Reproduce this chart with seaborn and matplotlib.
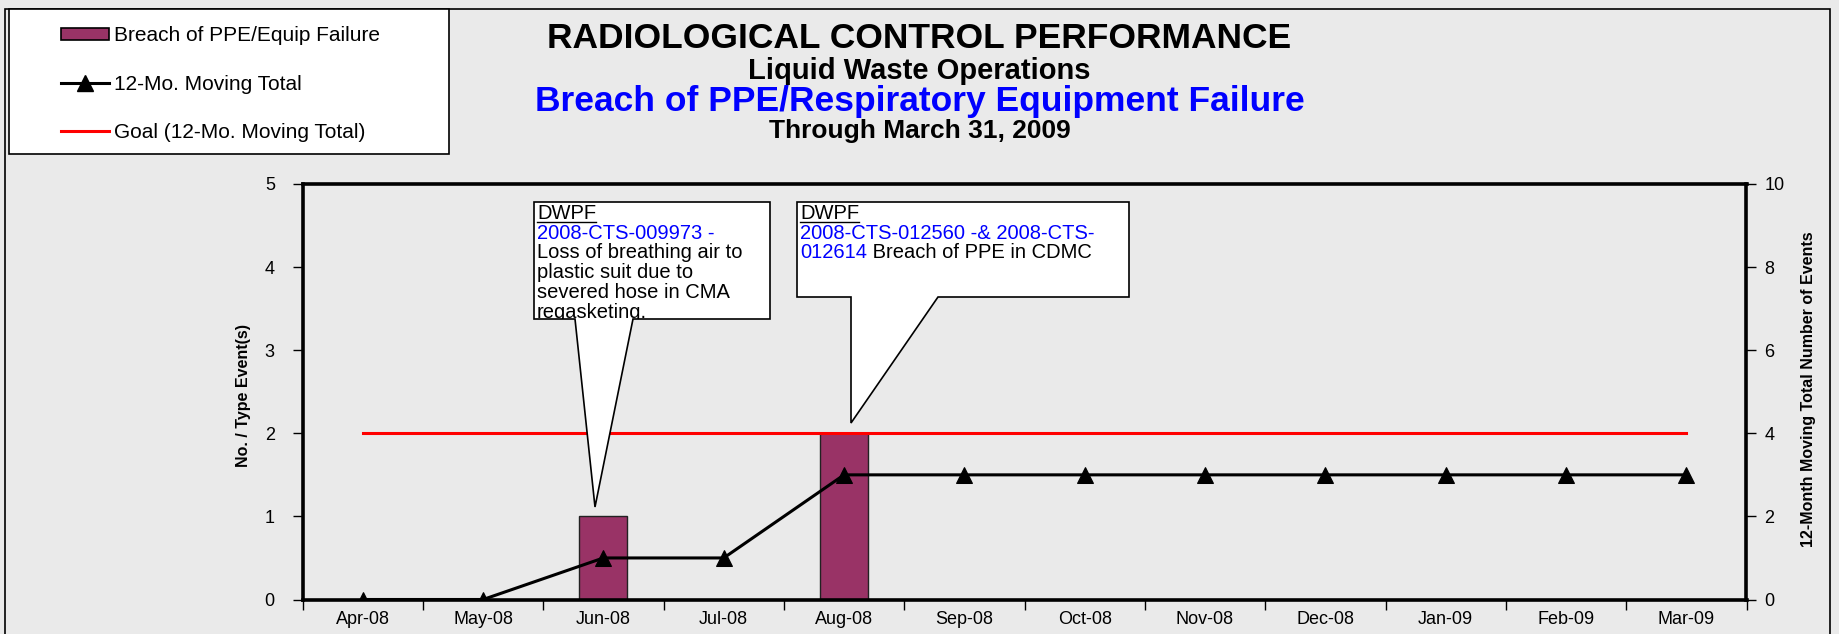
import numpy as np
import seaborn as sns
import matplotlib.pyplot as plt
from matplotlib.patches import Polygon, Rectangle, Patch
from matplotlib.lines import Line2D
from matplotlib.transforms import Bbox, TransformedBbox

# chart data
months = ['Apr-08', 'May-08', 'Jun-08', 'Jul-08', 'Aug-08', 'Sep-08',
          'Oct-08', 'Nov-08', 'Dec-08', 'Jan-09', 'Feb-09', 'Mar-09']
events = [0, 0, 1, 0, 2, 0, 0, 0, 0, 0, 0, 0]
moving_total = [0, 0, 1, 1, 3, 3, 3, 3, 3, 3, 3, 3]
goal = [4, 4, 4, 4, 4, 4, 4, 4, 4, 4, 4, 4]
legend_labels = ['Breach of PPE/Equip Failure', '12-Mo. Moving Total',
                 'Goal (12-Mo. Moving Total)']

bg = '#eaeaea'
bar_color = '#993366'

plt.rcParams['font.family'] = ['Liberation Sans', 'DejaVu Sans']

W, H = 1839, 634
fig = plt.figure(figsize=(W / 100, H / 100), dpi=100, facecolor=bg)


# helpers to place things in pixel coords (from the top left)
def fx(x):
    return x / W


def fy(y):
    return 1 - y / H


ax = fig.add_axes([fx(302.6), fy(599.5), (1746.5 - 302.6) / W, (599.5 - 184) / H])
ax.set_facecolor(bg)

sns.barplot(x=months, y=events, ax=ax, color=bar_color, saturation=1,
            width=0.4, edgecolor='#222222', linewidth=1)
ax.set_xlim(-0.5, 11.5)
ax.set_ylim(0, 5)
ax.set_yticks(range(6))
ax.set_xticks(range(len(months)))
ax.set_xticklabels(months)
ax.set_xticks(np.arange(-0.5, len(months), 1), minor=True)
ax.set_xlabel('')
ax.set_ylabel('No. / Type Event(s)', fontsize=11.5, fontweight='bold')
ax.yaxis.set_label_coords(-0.0355, 0.492)
ax.tick_params(axis='x', which='major', length=0, pad=8, labelsize=13)
ax.tick_params(axis='x', which='minor', length=7, width=1, direction='out')
ax.tick_params(axis='y', length=7, width=1, direction='out', pad=13, labelsize=13)
for side in ['left', 'bottom', 'top']:
    ax.spines[side].set_linewidth(2.6)
    ax.spines[side].set_color('black')
ax.spines['right'].set_visible(False)

# moving total on the right axis
ax2 = ax.twinx()
x_pos = np.arange(len(months))
sns.lineplot(x=x_pos, y=goal, ax=ax2, color='red', lw=2.2)
sns.lineplot(x=x_pos, y=moving_total, ax=ax2, color='black', lw=2.2,
             marker='^', markersize=11, markeredgecolor='black')
ax2.set_ylim(0, 10)
ax2.set_yticks(range(0, 11, 2))
ax2.set_xlim(-0.5, 11.5)
ax2.set_ylabel('12-Month Moving Total Number of Events', fontsize=11.5, fontweight='bold')
ax2.yaxis.set_label_coords(1.0375, 0.507)
ax2.tick_params(axis='y', length=7, width=1, direction='out', pad=6, labelsize=13)
for side in ['left', 'bottom', 'top']:
    ax2.spines[side].set_visible(False)
ax2.spines['right'].set_linewidth(2.6)

# outer frame
fig.add_artist(Rectangle((fx(5), fy(700)), (1830 - 5) / W, (700 - 9) / H,
                         transform=fig.transFigure, fill=False, edgecolor='black', lw=1.2, zorder=1))

# titles
fig.text(0.5, fy(38), 'RADIOLOGICAL CONTROL PERFORMANCE', ha='center', va='center',
         fontsize=25.5, fontweight='bold')
fig.text(0.5, fy(71), 'Liquid Waste Operations', ha='center', va='center',
         fontsize=21, fontweight='bold')
fig.text(0.5, fy(102), 'Breach of PPE/Respiratory Equipment Failure', ha='center', va='center',
         fontsize=25.5, fontweight='bold', color='#0000ff')
fig.text(0.5, fy(131), 'Through March 31, 2009', ha='center', va='center',
         fontsize=19, fontweight='bold')

# legend box
fig.add_artist(Rectangle((fx(9), fy(154)), (449 - 9) / W, (154 - 9) / H,
                         transform=fig.transFigure, facecolor='white', edgecolor='black',
                         lw=1.2, zorder=4))
handles = [Patch(facecolor=bar_color, edgecolor='black', lw=1.2),
           Line2D([], [], color='black', lw=2.2, marker='^', markersize=11),
           Line2D([], [], color='red', lw=2.2)]
fig.legend(handles, legend_labels, loc='upper left', bbox_to_anchor=(fx(61), fy(26)),
           frameon=False, fontsize=15, handlelength=2.3, handleheight=0.5,
           handletextpad=0.25, labelspacing=1.42, borderpad=0, borderaxespad=0)


# speech bubble callouts
def callout(box, tail, tip):
    L, T, R, B = box
    pts = [(L, T), (R, T), (R, B), (tail[1], B), tip, (tail[0], B), (L, B)]
    fig.add_artist(Polygon([(fx(x), fy(y)) for x, y in pts], closed=True,
                           transform=fig.transFigure, facecolor='white',
                           edgecolor='black', lw=1.2, zorder=5))
    return TransformedBbox(Bbox.from_extents(fx(L), fy(B), fx(R), fy(T)), fig.transFigure)


renderer = fig.canvas.get_renderer()
fs = 14.5
pitch = 19.7


def callout_text(clip, x, lines):
    for i, parts in enumerate(lines):
        y = 219 + pitch * i
        cx = fx(x)
        for txt, col in parts:
            t = fig.text(cx, fy(y), txt, ha='left', va='baseline', fontsize=fs,
                         color=col, zorder=6)
            t.set_clip_box(clip)
            t.set_clip_on(True)
            bb = t.get_window_extent(renderer)
            if txt == 'DWPF':
                fig.add_artist(Line2D([fx(bb.x0), fx(bb.x1)], [fy(y + 2.5), fy(y + 2.5)],
                                      transform=fig.transFigure, color='black', lw=1, zorder=6))
            cx = bb.x1 / W


clip1 = callout((534, 202, 770, 319), (575, 633), (595, 507))
callout_text(clip1, 537, [
    [('DWPF', 'black')],
    [('2008-CTS-009973 -', '#0000ff')],
    [('Loss of breathing air to', 'black')],
    [('plastic suit due to', 'black')],
    [('severed hose in CMA', 'black')],
    [('regasketing.', 'black')],
])

clip2 = callout((797, 202, 1129, 297), (851, 938), (851, 423))
callout_text(clip2, 800, [
    [('DWPF', 'black')],
    [('2008-CTS-012560 -& 2008-CTS-', '#0000ff')],
    [('012614', '#0000ff'), (' Breach of PPE in CDMC', 'black')],
])

plt.savefig('out.png', dpi=100, facecolor=bg)
